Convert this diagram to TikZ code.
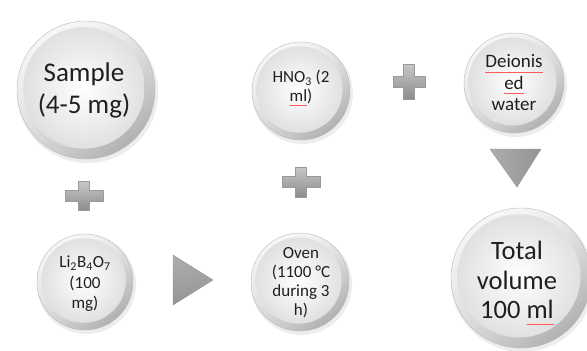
\documentclass[tikz,border=0pt]{standalone}
\usepackage{fontspec}
\setmainfont{Carlito}
\usetikzlibrary{shadings}
\newcommand\spellmark[1]{\begingroup\setbox0\hbox{#1}\rlap{\textcolor{red!65}{\rule[-0.45ex]{\wd0}{0.3pt}}}\box0\endgroup}
\begin{document}
\begin{tikzpicture}[x=1pt,y=-1pt,declare function={t=11;},every node/.style={align=center,text=black!88,inner sep=0pt}]
	\useasboundingbox (0,0) rectangle (587,351);
	% bubbles
	\foreach \x/\y/\r in {86/90/69,85/282/48,301/91/49,300/282/49,514/83/50,521/278/70}{
		\fill[black,opacity=0.07] (\x+1.5,\y+2.5) circle ({\r*1pt+1.5pt});
		\shade[upper left=white,lower right=black!38,upper right=black!8,lower left=black!14,draw=black!28,line width=0.4pt] (\x,\y) circle ({\r*1pt});
		\shade[inner color=white,outer color=black!12] (\x-0.03*\r,\y-0.03*\r) circle ({0.88*\r*1pt});
	}
	% plus signs
	\foreach \x/\y/\w/\h in {84/196/38/29,301/182/38/30,409/82/32/35}{
		\shade[top color=black!22,bottom color=black!45,draw=black!40,line width=0.4pt]
			(\x-\w/2,\y-t/2) -- (\x-t/2,\y-t/2) -- (\x-t/2,\y-\h/2) -- (\x+t/2,\y-\h/2) -- (\x+t/2,\y-t/2) -- (\x+\w/2,\y-t/2)
			-- (\x+\w/2,\y+t/2) -- (\x+t/2,\y+t/2) -- (\x+t/2,\y+\h/2) -- (\x-t/2,\y+\h/2) -- (\x-t/2,\y+t/2) -- (\x-\w/2,\y+t/2) -- cycle;
	}
	% arrows
	\shade[top color=black!32,bottom color=black!42,draw=black!42,line width=0.4pt] (173,255) -- (213,280) -- (173,305) -- cycle;
	\shade[left color=black!32,right color=black!42,draw=black!42,line width=0.4pt] (490,149) -- (541,149) -- (517,187) -- cycle;
	% texts
	\node[font=\fontsize{27}{32}\selectfont] (sample) at (84,90) {Sample\\(4-5 mg)};
	\node[font=\fontsize{17}{20.5}\selectfont] (lithium) at (85,284) {Li\textsubscript{2}B\textsubscript{4}O\textsubscript{7}\\(100\\mg)};
	\node[font=\fontsize{17}{19}\selectfont] (nitric) at (301,88) {HNO\textsubscript{3} (2\\\spellmark{ml})};
	\node[font=\fontsize{17}{19}\selectfont] (oven) at (301,283) {Oven\\(1100 °C\\during 3\\h)};
	\node[font=\fontsize{19}{21.5}\selectfont] (water) at (514,83) {\spellmark{Deionis}\\\spellmark{ed}\\water};
	\node[font=\fontsize{26.5}{29.5}\selectfont] (total) at (517,283) {Total\\volume\\100 \spellmark{ml}};
\end{tikzpicture}
\end{document}
